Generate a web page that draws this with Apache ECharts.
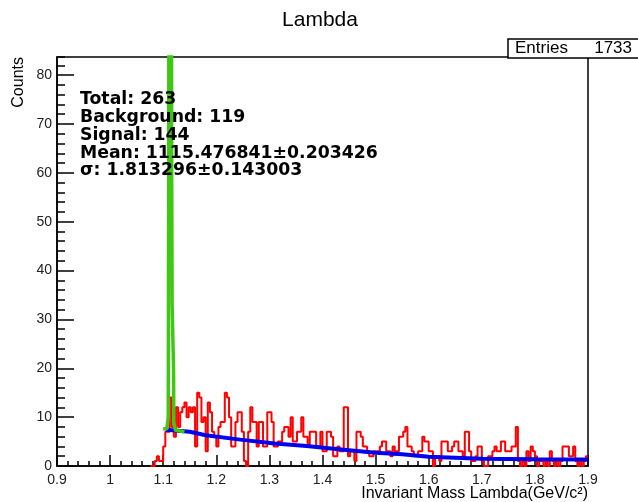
<!DOCTYPE html>
<html>
<head>
<meta charset="utf-8">
<script src="https://cdn.jsdelivr.net/npm/echarts@6/dist/echarts.min.js"></script>
<style>html,body{margin:0;padding:0;background:#fff}#c{width:638px;height:502px}</style>
</head>
<body>
<div id="c"></div>
<script>
// ---- data ----
const binStart = 1.076;
const binWidth = 0.004;
const redCounts = [
  0,0,1,2,1,1,4,7,7,14,
  8,6,12,8,11,12,13,10,12,11,
  12,4,15,14,9,10,3,13,11,7,
  6,4,8,9,9,15,14,10,4,4,
  9,11,11,7,1,0,7,12,9,9,
  4,9,9,4,4,11,11,9,4,4,
  5,5,7,8,8,6,10,5,5,7,
  7,10,6,6,4,7,7,7,4,4,
  7,3,3,7,7,6,2,2,4,3,
  3,12,12,2,3,3,1,7,7,6,
  4,4,3,2,2,3,3,3,4,5,
  5,3,3,2,4,3,3,6,6,7,
  8,4,4,3,2,2,3,3,6,5,
  5,3,3,0,2,2,1,5,5,5,
  3,3,4,5,5,3,3,2,7,7,
  3,1,1,2,4,4,1,0,0,2,
  2,3,4,3,3,5,5,3,3,3,
  4,4,8,1,0,1,0,3,1,4,
  3,2,0,1,1,0,1,0,3,1,
  0,1,0,1,4,4,4,2,2,4,
  1,0,1,0,1,2
];
const bgX = [1.105, 1.15, 1.18, 1.245, 1.31, 1.37, 1.435, 1.5, 1.55, 1.6, 1.7, 1.8, 1.9];
const bgY = [7.4, 7.0, 6.3, 5.4, 4.6, 4.1, 3.4, 2.7, 2.4, 1.9, 1.5, 1.4, 1.35];
const fitX = [1.100, 1.107, 1.1095, 1.1104, 1.1110, 1.1150, 1.1160, 1.1168, 1.1195, 1.1200, 1.123, 1.140];
const fitY = [7.6, 7.6, 10, 60, 150, 150, 60, 33, 20, 9, 7.3, 7.0];
const statLines = ['Total: 263', 'Background: 119', 'Signal: 144', 'Mean: 1115.476841\u00b10.203426', '\u03c3: 1.813296\u00b10.143003'];
const entries = 1733;
const titleText = 'Lambda';
const xTitle = 'Invariant Mass Lambda(GeV/c\u00b2)';
const yTitle = 'Counts';

// ---- build ----
const redData = redCounts.map((c, i) => [binStart + i * binWidth, c]);
redData.push([binStart + redCounts.length * binWidth, redCounts[redCounts.length - 1]]);
const bgData = bgX.map((x, i) => [x, bgY[i]]);
const fitData = fitX.map((x, i) => [x, fitY[i]]);

const chart = echarts.init(document.getElementById('c'), null, {renderer: 'canvas'});
const lbl = {fontFamily: 'Liberation Sans, Arial, sans-serif', fontSize: 14, color: '#222'};
const statGraphics = statLines.map((t, i) => ({
  type: 'text', x: 80, y: [100, 118, 136, 153.5, 171][i], z: 20,
  style: {text: t, fontFamily: 'DejaVu Sans', fontWeight: 'bold', fontSize: 17.3, fill: '#000', align: 'left', verticalAlign: 'middle'}
}));

chart.setOption({
  animation: false,
  backgroundColor: '#fff',
  grid: {left: 57, right: 50, top: 57, bottom: 36, show: true, borderColor: '#000', borderWidth: 1.5, containLabel: false},
  xAxis: {
    type: 'value', min: 0.9, max: 1.9, interval: 0.1,
    axisLine: {show: true, lineStyle: {color: '#000', width: 1.5}},
    axisTick: {show: true, inside: true, length: 11, lineStyle: {color: '#000', width: 1.5}},
    minorTick: {show: true, splitNumber: 5, length: 5, lineStyle: {color: '#000', width: 1.5}},
    splitLine: {show: false},
    axisLabel: Object.assign({margin: 7, formatter: v => String(Math.round(v * 10) / 10)}, lbl)
  },
  yAxis: [{
    type: 'value', min: 0, max: 83.7, interval: 10,
    axisLine: {show: true, lineStyle: {color: '#000', width: 1.5}},
    axisTick: {show: true, inside: true, length: 17, lineStyle: {color: '#000', width: 1.5}},
    splitLine: {show: false},
    axisLabel: Object.assign({margin: 5, showMaxLabel: false}, lbl)
  }, {
    type: 'value', min: 0, max: 83.7, interval: 2, position: 'left',
    axisLine: {show: false},
    axisTick: {show: true, inside: true, length: 8, lineStyle: {color: '#000', width: 1.5}},
    splitLine: {show: false},
    axisLabel: {show: false}
  }],
  series: [
    {type: 'line', data: redData, step: 'end', symbol: 'none', yAxisIndex: 0,
     lineStyle: {color: '#ff0000', width: 2}, z: 2},
    {type: 'line', data: bgData, symbol: 'none', yAxisIndex: 0,
     lineStyle: {color: '#0000f0', width: 4}, z: 3},
    {type: 'line', data: fitData, symbol: 'none', yAxisIndex: 0, clip: true,
     lineStyle: {color: '#3ec814', width: 3.5}, z: 4}
  ],
  graphic: [
    {type: 'text', x: 320, y: 20, style: {text: titleText, fontFamily: 'Liberation Sans, Arial, sans-serif', fontSize: 21, fill: '#000', align: 'center', verticalAlign: 'middle'}},
    {type: 'text', x: 19, y: 57, rotation: Math.PI / 2, style: {text: yTitle, fontFamily: 'Liberation Sans, Arial, sans-serif', fontSize: 16, fill: '#000', align: 'right', verticalAlign: 'middle'}},
    {type: 'text', x: 588, y: 494, style: {text: xTitle, fontFamily: 'Liberation Sans, Arial, sans-serif', fontSize: 16, fill: '#000', align: 'right', verticalAlign: 'middle'}},
    {type: 'rect', shape: {x: 508, y: 39, width: 140, height: 19}, style: {fill: '#fff', stroke: '#000', lineWidth: 1.5}, z: 10},
    {type: 'text', x: 515, y: 48.5, z: 11, style: {text: 'Entries', fontFamily: 'Liberation Sans, Arial, sans-serif', fontSize: 17, fill: '#000', align: 'left', verticalAlign: 'middle'}},
    {type: 'text', x: 632, y: 48.5, z: 11, style: {text: String(entries), fontFamily: 'Liberation Sans, Arial, sans-serif', fontSize: 17, fill: '#000', align: 'right', verticalAlign: 'middle'}}
  ].concat(statGraphics)
});
</script>
</body>
</html>
